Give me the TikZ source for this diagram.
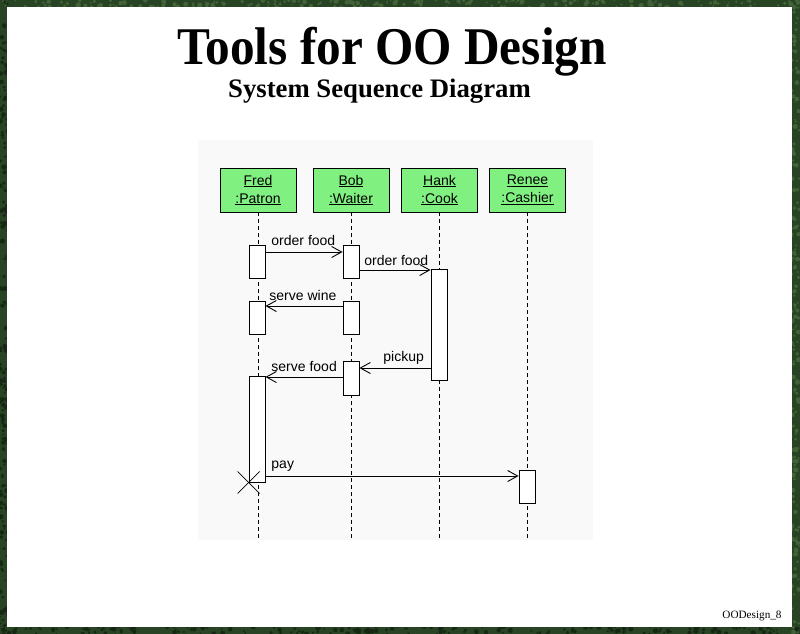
\documentclass[tikz,border=0pt]{standalone}
\usepackage{fontspec}
\setmainfont{Liberation Serif}
\newfontfamily\uifont{Liberation Sans}
\usetikzlibrary{arrows.meta}
\definecolor{leafgreen}{RGB}{40,68,36}
\definecolor{leaflight}{RGB}{66,98,56}
\definecolor{leafdark}{RGB}{22,40,20}
\definecolor{objgreen}{RGB}{128,240,128}
\definecolor{paneback}{RGB}{249,249,249}
\newcommand{\objname}[1]{\underline{#1\vphantom{H}}}
\tikzset{
  object/.style={draw, fill=objgreen, minimum width=76pt, minimum height=44pt,
    inner sep=0pt, align=center, font=\uifont\fontsize{14}{18}\selectfont},
  activation/.style={draw, fill=white, minimum width=16pt, inner sep=0pt},
  lifeline/.style={dash pattern=on 4pt off 3pt},
  message/.style={-{Straight Barb[length=10pt,width=11pt]}},
  msglabel/.style={font=\uifont\fontsize{14}{16}\selectfont, anchor=base west, inner sep=0pt}
}
\begin{document}
\begin{tikzpicture}[x=1pt, y=-1pt, line width=0.9pt]
      \useasboundingbox (0,0) rectangle (800,634);
      \fill[leafgreen] (0,0) rectangle (800,634);
      % foliage speckle in the border
      \begin{scope}
        \clip (0,0) rectangle (800,634);
        \pgfmathsetseed{7}
        \foreach \i in {1,...,220}{
          \pgfmathsetmacro{\px}{rnd*800}
          \pgfmathsetmacro{\py}{rnd*8}
          \pgfmathsetmacro{\pr}{0.8+rnd*1.8}
          \fill[leaflight] (\px,\py) circle (\pr);
          \pgfmathsetmacro{\px}{rnd*800}
          \fill[leafdark] (\px,626+\py) circle (\pr);
        }
        \foreach \i in {1,...,180}{
          \pgfmathsetmacro{\px}{rnd*8}
          \pgfmathsetmacro{\py}{rnd*634}
          \pgfmathsetmacro{\pr}{0.8+rnd*1.8}
          \fill[leafdark] (\px,\py) circle (\pr);
          \pgfmathsetmacro{\py}{rnd*634}
          \fill[leaflight] (791+\px,\py) circle (\pr);
        }
      \end{scope}
      \fill[white] (7,7) rectangle (792,627);
      % titles
      \node[anchor=base, inner sep=0pt] (title) at (392,65)
        {\bfseries\fontsize{53}{60}\selectfont\scalebox{0.93}[1]{Tools for OO Design}};
      \node[anchor=base, inner sep=0pt] (subtitle) at (379.5,97)
        {\bfseries\fontsize{26.7}{30}\selectfont System Sequence Diagram};
      \node[anchor=base east, inner sep=0pt] (footer) at (782,618)
        {\fontsize{11.2}{13}\selectfont OODesign\_8};
      % diagram pane
      \fill[paneback] (198,140) rectangle (593,540);
      \node[object] (fred) at (258,190) {\objname{Fred}\\\objname{:Patron}};
      \node[object] (bob) at (351,190) {\objname{Bob}\\\objname{:Waiter}};
      \node[object] (hank) at (439.5,190) {\objname{Hank}\\\objname{:Cook}};
      \node[object] (renee) at (527.5,190) {\objname{Renee}\\\objname{:Cashier}};
      \coordinate (fredend) at (258,540);
      \coordinate (bobend) at (351,540);
      \coordinate (hankend) at (439.5,540);
      \coordinate (reneeend) at (527.5,540);
      \draw[lifeline] (fred) -- (fredend);
      \draw[lifeline] (bob) -- (bobend);
      \draw[lifeline] (hank) -- (hankend);
      \draw[lifeline] (renee) -- (reneeend);
      % activations
      \node[activation, minimum height=33pt] (fa1) at (257,261.5) {};
      \node[activation, minimum height=33pt] (ba1) at (351,261.5) {};
      \node[activation, minimum height=111pt] (ha1) at (439,324.5) {};
      \node[activation, minimum height=33pt] (fa2) at (257,317.5) {};
      \node[activation, minimum height=33pt] (ba2) at (351,317.5) {};
      \node[activation, minimum height=34pt] (ba3) at (351,378) {};
      \node[activation, minimum height=106pt] (fa3) at (257,429) {};
      \node[activation, minimum height=33pt] (ra1) at (527,486.5) {};
      % messages
      \coordinate (m1) at (0,252);
      \coordinate (m2) at (0,270);
      \coordinate (m3) at (0,306);
      \coordinate (m4) at (0,368);
      \coordinate (m5) at (0,377);
      \coordinate (m6) at (0,476);
      \draw[message] (fa1.east |- m1) -- (ba1.west |- m1);
      \draw[message] (ba1.east |- m2) -- (ha1.west |- m2);
      \draw[message] (ba2.west |- m3) -- (fa2.east |- m3);
      \draw[message] (ha1.west |- m4) -- (ba3.east |- m4);
      \draw[message] (ba3.west |- m5) -- (fa3.east |- m5);
      \draw[message] (fa3.east |- m6) -- (ra1.west |- m6);
      \node[msglabel] (l1) at (271,245) {order food};
      \node[msglabel] (l2) at (364,265) {order food};
      \node[msglabel] (l3) at (269,300) {serve wine};
      \node[msglabel] (l4) at (383,361) {pickup};
      \node[msglabel] (l5) at (271,371) {serve food};
      \node[msglabel] (l6) at (271,468) {pay};
      % destroy
      \draw[line width=0.7pt] (fa3.south west) ++(-11,-11) -- ++(22,22);
      \draw[line width=0.7pt] (fa3.south west) ++(-11,11) -- ++(22,-22);
    \end{tikzpicture}
\end{document}
